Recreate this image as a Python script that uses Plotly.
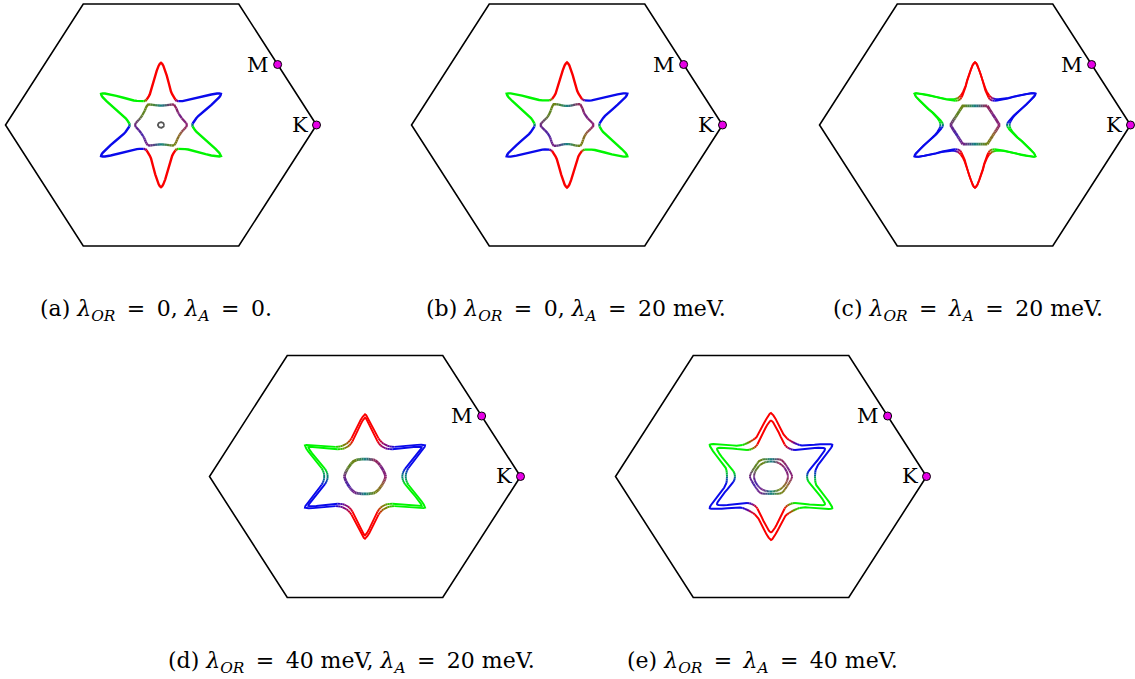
import numpy as np
import plotly.graph_objects as go

W, H = 1135, 679

# ---------------- data ----------------
panel_ids = ["a", "b", "c", "d", "e"]
EQ = "\u2009=\u2009"
captions = [
    "(a) <i>λ</i><sub><i>OR</i></sub> " + EQ + " 0, <i>λ</i><sub><i>A</i></sub> " + EQ + " 0.",
    "(b) <i>λ</i><sub><i>OR</i></sub> " + EQ + " 0, <i>λ</i><sub><i>A</i></sub> " + EQ + " 20 meV.",
    "(c) <i>λ</i><sub><i>OR</i></sub> " + EQ + " <i>λ</i><sub><i>A</i></sub> " + EQ + " 20 meV.",
    "(d) <i>λ</i><sub><i>OR</i></sub> " + EQ + " 40 meV, <i>λ</i><sub><i>A</i></sub> " + EQ + " 20 meV.",
    "(e) <i>λ</i><sub><i>OR</i></sub> " + EQ + " <i>λ</i><sub><i>A</i></sub> " + EQ + " 40 meV.",
]

# Brillouin-zone hexagon corners (units of |ΓK|)
bz_kx = [1.0, 0.5, -0.5, -1.0, -0.5, 0.5, 1.0]
bz_ky = [0.0, 0.866, 0.866, 0.0, -0.866, -0.866, 0.0]
# high-symmetry points
hs_labels = ["M", "K"]
hs_kx = [0.75, 1.0]
hs_ky = [0.433, 0.0]

# six-fold star contours: radius vs angle from a valley (0 deg) to a lobe tip (30 deg)
star_phi = [0, 3, 6, 9, 12, 15, 18, 21, 24, 26, 28, 29, 30]
star_a = [0.200, 0.204, 0.211, 0.220, 0.232, 0.248, 0.272, 0.310, 0.355, 0.390, 0.425, 0.438, 0.445]
star_b = [0.207, 0.210, 0.216, 0.225, 0.237, 0.253, 0.276, 0.313, 0.357, 0.392, 0.427, 0.440, 0.448]
star_c1 = [0.205, 0.208, 0.215, 0.225, 0.239, 0.257, 0.283, 0.320, 0.362, 0.393, 0.428, 0.441, 0.448]
star_c2 = [0.222, 0.224, 0.229, 0.237, 0.249, 0.265, 0.289, 0.325, 0.366, 0.396, 0.430, 0.443, 0.450]
star_d1 = [0.240, 0.241, 0.245, 0.252, 0.263, 0.279, 0.300, 0.326, 0.356, 0.378, 0.402, 0.414, 0.421]
star_d2 = [0.262, 0.263, 0.267, 0.274, 0.285, 0.302, 0.325, 0.352, 0.382, 0.405, 0.428, 0.439, 0.446]
star_e1 = [0.232, 0.233, 0.237, 0.245, 0.257, 0.273, 0.294, 0.319, 0.347, 0.368, 0.388, 0.396, 0.400]
star_e2 = [0.283, 0.284, 0.286, 0.290, 0.298, 0.312, 0.333, 0.360, 0.392, 0.415, 0.438, 0.449, 0.455]

# central pockets: radius vs angle from a corner (0 deg) to an edge middle (30 deg)
pocket_psi = [0, 5, 10, 15, 20, 25, 30]
pocket_a = [0.168, 0.162, 0.154, 0.147, 0.142, 0.140, 0.139]
ring_a = [0.020, 0.020, 0.020, 0.020, 0.020, 0.020, 0.020]
pocket_b = [0.172, 0.164, 0.155, 0.147, 0.141, 0.138, 0.137]
pocket_c = [0.158, 0.151, 0.146, 0.142, 0.139, 0.1375, 0.137]
pocket_d = [0.132, 0.131, 0.129, 0.127, 0.126, 0.125, 0.125]
pocket_e1 = [0.109, 0.109, 0.108, 0.108, 0.107, 0.107, 0.107]
pocket_e2 = [0.136, 0.134, 0.131, 0.128, 0.126, 0.125, 0.124]

# ---------------- styling ----------------
RED, GREEN, BLUE = (250, 0, 0), (0, 245, 0), (10, 10, 235)
lobe_col = {30: BLUE, 90: RED, 150: GREEN, 210: BLUE, 270: RED, 330: GREEN}
pocket_keys = [(140, 30, 120), (120, 40, 130), (150, 40, 90), (20, 130, 130),
               (110, 130, 20), (90, 130, 40), (110, 40, 130), (70, 40, 170),
               (120, 30, 130), (20, 130, 130), (120, 130, 20), (140, 100, 40)]

panels = [
    dict(c=(161, 125), stars=[star_a], pockets=[pocket_a], rings=[ring_a], w=5, sw=2.4, pw=2.3),
    dict(c=(567, 125), stars=[star_b], pockets=[pocket_b], rings=[], w=5, sw=2.4, pw=2.3),
    dict(c=(975, 125), stars=[star_c1, star_c2], pockets=[pocket_c], rings=[], w=7, sw=1.9, pw=2.8),
    dict(c=(365, 476.5), stars=[star_d1, star_d2], pockets=[pocket_d], rings=[], w=13, sw=1.9, pw=2.8),
    dict(c=(771, 476.5), stars=[star_e1, star_e2], pockets=[pocket_e1, pocket_e2], rings=[], w=11, sw=2.0, pw=2.0),
]

SX, SY = 155.5, 139.7     # pixels per unit
RX, RY = 1.02, 0.885


def expand(phi, r):
    ang, rad = [], []
    for k in range(6):
        b = 60 * k
        for p, rr in zip(phi, r):
            ang.append(b + p); rad.append(rr)
        for p, rr in zip(phi[-2::-1], r[-2::-1]):
            if p == 0:
                continue
            ang.append(b + 60 - p); rad.append(rr)
    ang.append(360.0); rad.append(r[0])
    return np.array(ang, float), np.array(rad, float)


def star_color(m, w):
    v = 60 * round(m / 60)
    d = m - v
    t = min(1.0, max(0.0, 0.5 + d / (2 * w)))
    t = round(t * 8) / 8
    A = lobe_col[(v - 30) % 360]
    B = lobe_col[(v + 30) % 360]
    return tuple(int(round((1 - t) * a + t * b)) for a, b in zip(A, B))


def pocket_color(m):
    m = m % 360
    i = int(m // 30) % 12
    f = (m - 30 * i) / 30
    A, B = pocket_keys[i], pocket_keys[(i + 1) % 12]
    return tuple(int(round(((1 - f) * a + f * b) / 12) * 12) for a, b in zip(A, B))


def add_colored(fig, ang, rad, colfun, width, xa, ya):
    th = np.radians(ang)
    x = rad * np.cos(th)
    y = rad * np.sin(th)
    groups = {}
    cur, run = None, []
    for i in range(len(ang) - 1):
        c = colfun(0.5 * (ang[i] + ang[i + 1]))
        if c != cur:
            if run:
                groups.setdefault(cur, []).append(run)
            run = [i, i + 1]
            cur = c
        else:
            run.append(i + 1)
    groups.setdefault(cur, []).append(run)
    for c, runs in groups.items():
        xs, ys = [], []
        for rn in runs:
            xs += [float(x[j]) for j in rn] + [None]
            ys += [float(y[j]) for j in rn] + [None]
        fig.add_trace(go.Scatter(x=xs, y=ys, mode="lines",
                                 line=dict(color="rgb(%d,%d,%d)" % c, width=width),
                                 xaxis=xa, yaxis=ya, hoverinfo="skip", showlegend=False))


fig = go.Figure()
annotations = []
layout_axes = {}
serif = "DejaVu Serif"

for n, (pid, p, cap) in enumerate(zip(panel_ids, panels, captions), start=1):
    xa = "x" if n == 1 else "x%d" % n
    ya = "y" if n == 1 else "y%d" % n
    cx, cy = p["c"]
    layout_axes["xaxis" if n == 1 else "xaxis%d" % n] = dict(
        domain=[(cx - RX * SX) / W, (cx + RX * SX) / W], range=[-RX, RX],
        visible=False, fixedrange=True, anchor=ya)
    layout_axes["yaxis" if n == 1 else "yaxis%d" % n] = dict(
        domain=[1 - (cy + RY * SY) / H, 1 - (cy - RY * SY) / H], range=[-RY, RY],
        visible=False, fixedrange=True, anchor=xa)

    # Brillouin zone
    fig.add_trace(go.Scatter(x=bz_kx, y=bz_ky, mode="lines",
                             line=dict(color="black", width=1.6),
                             xaxis=xa, yaxis=ya, hoverinfo="skip", showlegend=False))
    # contours
    for s in p["stars"]:
        ang, rad = expand(star_phi, s)
        add_colored(fig, ang, rad, lambda m, w=p["w"]: star_color(m, w), p["sw"], xa, ya)
    for q in p["pockets"]:
        ang, rad = expand(pocket_psi, q)
        add_colored(fig, ang, rad, pocket_color, p["pw"], xa, ya)
    for q in p["rings"]:
        ang, rad = expand(pocket_psi, q)
        th = np.radians(ang)
        fig.add_trace(go.Scatter(x=rad * np.cos(th), y=rad * np.sin(th), mode="lines",
                                 line=dict(color="rgb(85,85,85)", width=1.8),
                                 xaxis=xa, yaxis=ya, hoverinfo="skip", showlegend=False))
    # high-symmetry points
    fig.add_trace(go.Scatter(x=hs_kx, y=hs_ky, mode="markers", cliponaxis=False,
                             marker=dict(color="rgb(230,0,230)", size=8,
                                         line=dict(color="black", width=1)),
                             xaxis=xa, yaxis=ya, hoverinfo="skip", showlegend=False))
    for lab, kx, ky in zip(hs_labels, hs_kx, hs_ky):
        annotations.append(dict(x=kx, y=ky, xref=xa, yref=ya, text=lab, showarrow=False,
                                xanchor="right", yanchor="middle", xshift=-7,
                                font=dict(family=serif, size=21, color="black")))
    # caption
    cap_x = {1: 156, 2: 576, 3: 968, 4: 351, 5: 762}[n]
    cap_y = 311 if n <= 3 else 662
    annotations.append(dict(x=cap_x / W, y=1 - cap_y / H, xref="paper", yref="paper",
                            text=cap, showarrow=False, xanchor="center", yanchor="middle",
                            font=dict(family=serif, size=22, color="black")))

fig.update_layout(width=W, height=H, margin=dict(l=0, r=0, t=0, b=0),
                  paper_bgcolor="white", plot_bgcolor="white",
                  annotations=annotations, **layout_axes)

fig.write_html("out.html", config={"displayModeBar": False},
               post_script="document.body.style.margin='0px';document.body.style.padding='0px';")
